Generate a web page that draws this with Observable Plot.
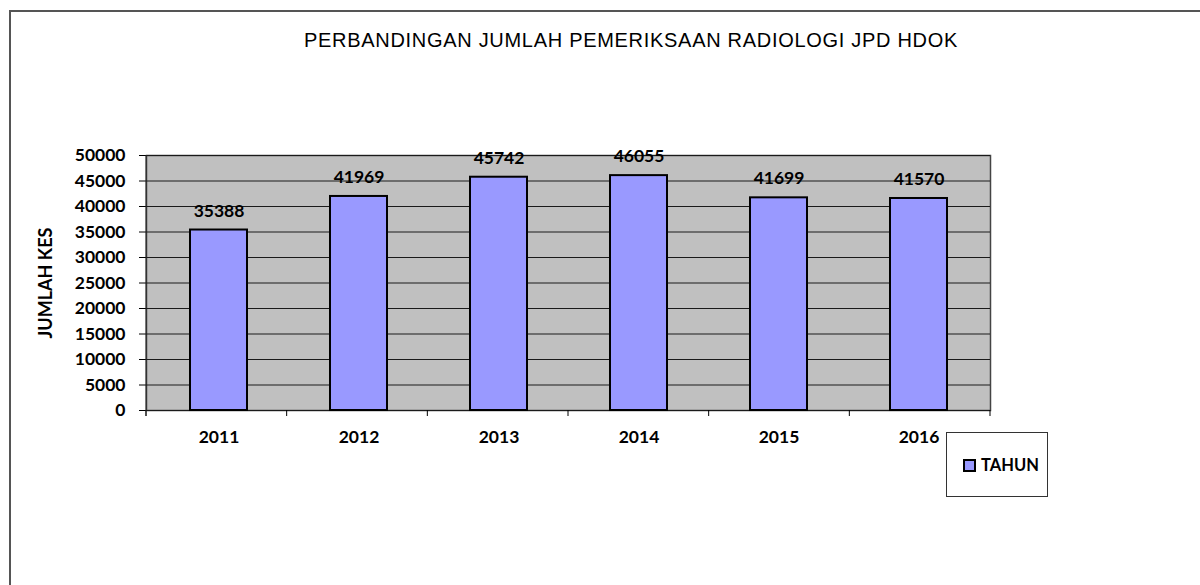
<!DOCTYPE html>
<html><head><meta charset="utf-8">
<script src="https://cdn.jsdelivr.net/npm/d3@7"></script>
<script src="https://cdn.jsdelivr.net/npm/@observablehq/plot@0.6"></script>
<style>
body{margin:0;background:#fff;}
#wrap{position:relative;width:1200px;height:585px;overflow:hidden;background:#fff;}
#frame{position:absolute;left:9px;top:10px;width:1300px;height:700px;border-top:2px solid #555;border-left:2px solid #555;}
#title{position:absolute;left:0;width:1262px;top:28px;text-align:center;font-family:"Liberation Sans",Arimo,Arial,sans-serif;font-size:20px;letter-spacing:0.7px;line-height:24px;color:#000;white-space:nowrap;}
#chart{position:absolute;left:0;top:0;}
#legend{position:absolute;left:946px;top:432px;width:100px;height:63px;border:1px solid #333;background:#fff;}
#legend .sw{position:absolute;left:16px;top:26px;width:13px;height:13px;box-sizing:border-box;border:2px solid #000;background:#9999FF;}
#legend .lb{position:absolute;left:34px;top:22px;font-family:Lato,sans-serif;font-weight:bold;font-size:16.5px;line-height:20px;color:#000;}
</style>
</head><body>
<div id="wrap">
  <div id="frame"></div>
  <div id="chart"></div>
  <div id="title">PERBANDINGAN JUMLAH PEMERIKSAAN RADIOLOGI JPD HDOK</div>
  <div id="legend"><span class="sw"></span><span class="lb">TAHUN</span></div>
</div>
<script>
const years = ["2011","2012","2013","2014","2015","2016"];
const cases = [35388, 41969, 45742, 46055, 41699, 41570];
const yTicks = [0,5000,10000,15000,20000,25000,30000,35000,40000,45000,50000];
const yLabel = "JUMLAH KES";

const data = years.map((y,i)=>({year:y, value:cases[i]}));
const font = {fontFamily:"Lato, sans-serif", fontWeight:"bold"};

function boundaryTicks(index, scales, values, dim) {
  const n = years.length;
  const step = (dim.width - dim.marginLeft - dim.marginRight) / n;
  const y0 = dim.height - dim.marginBottom;
  const g = d3.create("svg:g").attr("stroke","#000").attr("stroke-width",1);
  for (let i = 0; i <= n; i++) {
    const x = dim.marginLeft + i * step;
    g.append("line").attr("x1",x).attr("x2",x).attr("y1",y0).attr("y2",y0+6);
  }
  g.append("line").attr("x1",dim.marginLeft).attr("x2",dim.marginLeft)
    .attr("y1",dim.marginTop).attr("y2",y0+6).attr("stroke","#222");
  return g.node();
}

const chart = Plot.plot({
  width: 1200, height: 585,
  marginLeft: 146, marginRight: 210, marginTop: 155, marginBottom: 175,
  style: {background:"transparent", overflow:"visible"},
  x: {domain: years, paddingInner: 0.595, paddingOuter: 0.2975},
  y: {domain: [0, 50000]},
  marks: [
    Plot.frame({fill:"#C0C0C0", stroke:"#444", strokeWidth:1.5}),
    Plot.ruleY(yTicks, {stroke:"#1a1a1a", strokeWidth:1}),
    Plot.barY(data, {x:"year", y:"value", fill:"#9999FF", stroke:"#000", strokeWidth:2}),
    Plot.text(data, {x:"year", y:"value", text: d=>String(d.value), dy:-19, fontSize:17.5, ...font, fill:"#000"}),
    Plot.axisY({ticks: yTicks, tickSize: 7, tickPadding: 14, tickFormat: d=>String(d), label: null, fontSize: 17.5, ...font, fill:"#000"}),
    Plot.axisX({tickSize: 0, tickPadding: 20, label: null, fontSize: 17.5, ...font, fill:"#000"}),
    Plot.text([yLabel], {frameAnchor:"left", textAnchor:"middle", dx:-100, rotate:-90, fontSize:18, ...font, fill:"#000"}),
    boundaryTicks
  ]
});
document.getElementById("chart").appendChild(chart);
</script>
</body></html>
